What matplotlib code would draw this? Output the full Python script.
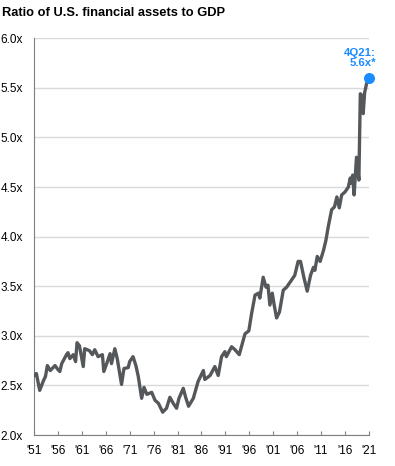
import matplotlib.pyplot as plt

# Datos (ratio activos financieros / PIB)
years = [1951.0, 1951.5, 1952.2, 1953.0, 1953.4, 1953.8, 1954.4, 1955.4, 1956.0, 1956.4,
         1956.8, 1957.8, 1958.1, 1958.5, 1959.2, 1959.7, 1960.0, 1960.5, 1961.3, 1961.6,
         1962.6, 1963.2, 1963.7, 1964.4, 1965.3, 1965.6, 1966.2, 1966.9, 1967.2, 1967.9,
         1968.4, 1969.3, 1969.8, 1970.7, 1971.0, 1971.7, 1972.3, 1972.8, 1973.5, 1974.0,
         1974.6, 1975.6, 1976.3, 1977.0, 1977.9, 1978.7, 1979.4, 1980.1, 1980.8, 1981.3,
         1982.2, 1982.7, 1983.3, 1984.3, 1985.3, 1986.4, 1986.7, 1987.8, 1988.8, 1989.5,
         1990.2, 1990.9, 1991.2, 1992.3, 1993.0, 1993.9, 1995.1, 1995.9, 1996.5, 1997.2,
         1997.9, 1998.2, 1998.9, 1999.5, 1999.9, 2000.3, 2000.8, 2001.2, 2001.7, 2002.3,
         2003.1, 2003.8, 2004.8, 2005.5, 2006.2, 2006.7, 2007.4, 2008.1, 2008.8, 2009.4,
         2009.7, 2010.2, 2010.8, 2011.5, 2012.0, 2012.5, 2013.2, 2013.8, 2014.3, 2014.8,
         2015.3, 2016.0, 2016.7, 2017.1, 2017.3, 2017.6, 2017.9, 2018.4, 2018.9, 2019.2,
         2019.6, 2019.8, 2020.1, 2020.5, 2021.0]
ratio = [2.60, 2.62, 2.45, 2.55, 2.59, 2.70, 2.65, 2.70, 2.66, 2.64,
         2.72, 2.81, 2.83, 2.77, 2.81, 2.74, 2.93, 2.90, 2.69, 2.87,
         2.85, 2.81, 2.86, 2.79, 2.81, 2.64, 2.72, 2.82, 2.72, 2.87,
         2.77, 2.51, 2.67, 2.68, 2.74, 2.79, 2.70, 2.59, 2.37, 2.48,
         2.41, 2.43, 2.35, 2.32, 2.23, 2.27, 2.38, 2.32, 2.27, 2.37,
         2.47, 2.38, 2.29, 2.37, 2.54, 2.65, 2.56, 2.60, 2.69, 2.60,
         2.79, 2.84, 2.79, 2.89, 2.86, 2.81, 3.02, 3.05, 3.23, 3.41,
         3.43, 3.38, 3.59, 3.49, 3.51, 3.31, 3.43, 3.31, 3.18, 3.24,
         3.46, 3.49, 3.56, 3.61, 3.75, 3.75, 3.59, 3.45, 3.61, 3.69,
         3.66, 3.80, 3.75, 3.86, 3.96, 4.10, 4.27, 4.30, 4.40, 4.29,
         4.42, 4.45, 4.50, 4.59, 4.54, 4.62, 4.42, 4.80, 4.57, 5.44,
         5.42, 5.24, 5.45, 5.54, 5.60]

xticks = list(range(1951, 2022, 5))
xlabels = ["'%02d" % (y % 100) for y in xticks]
yticks = [2.0, 2.5, 3.0, 3.5, 4.0, 4.5, 5.0, 5.5, 6.0]
ylabels = ["%.1fx" % v for v in yticks]

plt.rcParams['font.family'] = ['Liberation Sans', 'DejaVu Sans']

fig = plt.figure(figsize=(3.95, 4.66), dpi=100)
ax = fig.add_axes([0.086, 0.0665, 0.848, 0.8515])

ax.plot(years, ratio, color='#55585b', lw=2.4, solid_joinstyle='round', zorder=3)
ax.scatter([years[-1]], [ratio[-1]], s=48, color='#1a8cff', zorder=4, clip_on=False)
ax.annotate("4Q21:\n5.6x*", (years[-1], ratio[-1]), xytext=(5, 7),
            textcoords='offset points', ha='right', va='bottom',
            color='#1a8cff', fontsize=8.2, fontweight='bold', linespacing=1.05)

ax.set_xlim(1951, 2021)
ax.set_ylim(2.0, 6.0)
ax.set_xticks(xticks)
ax.set_xticklabels(xlabels)
ax.set_yticks(yticks)
ax.set_yticklabels(ylabels)
ax.grid(axis='y', color='#d9d9d9', lw=1.0)
ax.set_axisbelow(True)

for s in ['top', 'right']:
    ax.spines[s].set_visible(False)
ax.spines['left'].set_color('#7f7f7f')
ax.spines['bottom'].set_color('#7f7f7f')
ax.tick_params(axis='x', direction='in', length=3, color='#7f7f7f', labelsize=8.5, pad=7)
ax.tick_params(axis='y', length=0, labelsize=8.5, pad=8)

fig.text(0.005, 0.972, "Ratio of U.S. financial assets to GDP", fontsize=9.3,
         fontweight='bold', va='center', ha='left')

fig.savefig('out.png', dpi=100)
